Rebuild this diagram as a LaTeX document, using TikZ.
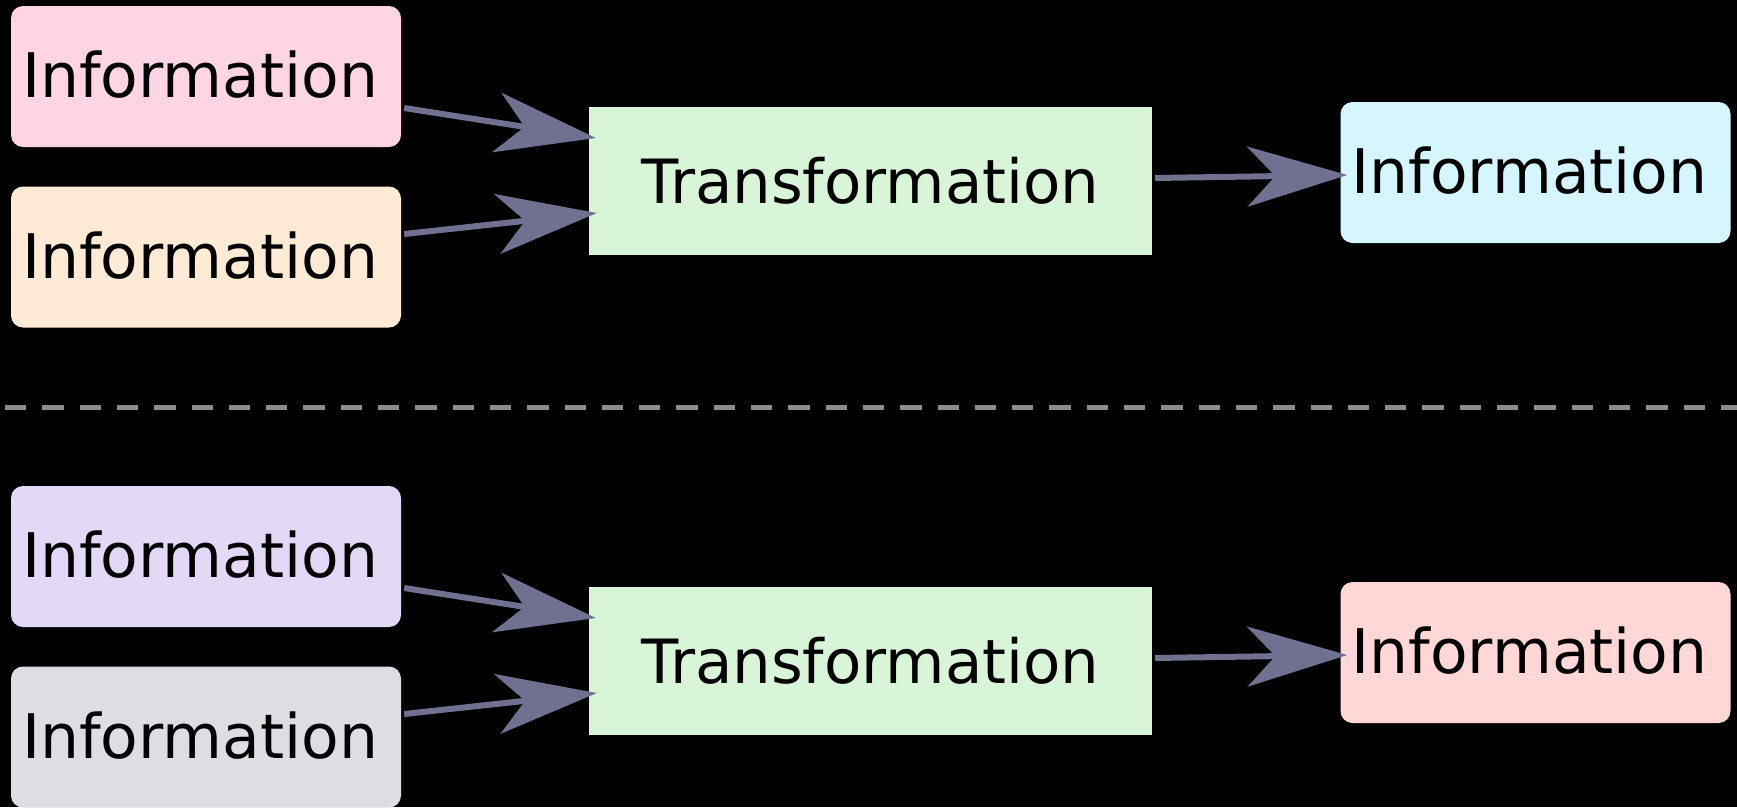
\documentclass[tikz,border=0pt]{standalone}
\usepackage{fontspec}
\setmainfont{DejaVu Sans}
\usetikzlibrary{arrows.meta}
\definecolor{pinkc}{RGB}{255,213,229}
\definecolor{peachc}{RGB}{255,234,214}
\definecolor{greenc}{RGB}{216,245,216}
\definecolor{cyanc}{RGB}{214,246,255}
\definecolor{lavc}{RGB}{227,216,245}
\definecolor{grayc}{RGB}{223,220,228}
\definecolor{salmonc}{RGB}{255,215,215}
\definecolor{arrowc}{RGB}{112,112,144}
\definecolor{dashc}{RGB}{140,140,140}
\newcommand{\infotxt}{\raisebox{4.5pt}{\hspace*{-12pt}Information}}
\newcommand{\transtxt}{\raisebox{2pt}{Transformation}}
\begin{document}
\begin{tikzpicture}[x=1pt,y=-1pt,
  info/.style={rounded corners=12pt, minimum width=390pt, minimum height=141pt, inner sep=0pt, font=\fontsize{61.5}{72}\selectfont},
  trans/.style={fill=greenc, minimum width=563pt, minimum height=148pt, inner sep=0pt, font=\fontsize{61}{72}\selectfont},
  flow/.style={draw=arrowc, line width=6pt, -{Stealth[length=100pt,width=60pt,inset=28pt,fill=arrowc]}},
  sep/.style={draw=dashc, line width=5pt, dash pattern=on 21.3pt off 16pt}]
\fill[black] (0,0) rectangle (1737,807);
\useasboundingbox (0,0) rectangle (1737,807);
% upper half
\node[info, fill=pinkc] (i1) at (206,76.5) {\infotxt};
\node[info, fill=peachc] (i2) at (206,257) {\infotxt};
\node[trans] (t1) at (870.5,181) {\transtxt};
\node[info, fill=cyanc] (o1) at (1535.5,172.5) {\infotxt};
\draw[flow] ([shift={(3,31.5)}]i1.east) -- ([shift={(7,-43)}]t1.west);
\draw[flow] ([shift={(3,-23)}]i2.east) -- ([shift={(8,32)}]t1.west);
\draw[flow] ([shift={(3,-3)}]t1.east) -- ([shift={(7,2.5)}]o1.west);
% separator
\coordinate (sl) at (5,407);
\coordinate (sr) at (1737,407);
\draw[sep] (sl) -- (sr);
% lower half
\node[info, fill=lavc] (i3) at (206,556.5) {\infotxt};
\node[info, fill=grayc] (i4) at (206,737) {\infotxt};
\node[trans] (t2) at (870.5,661) {\transtxt};
\node[info, fill=salmonc] (o2) at (1535.5,652.5) {\infotxt};
\draw[flow] ([shift={(3,31.5)}]i3.east) -- ([shift={(7,-43)}]t2.west);
\draw[flow] ([shift={(3,-23)}]i4.east) -- ([shift={(8,32)}]t2.west);
\draw[flow] ([shift={(3,-3)}]t2.east) -- ([shift={(7,2.5)}]o2.west);
\end{tikzpicture}
\end{document}
